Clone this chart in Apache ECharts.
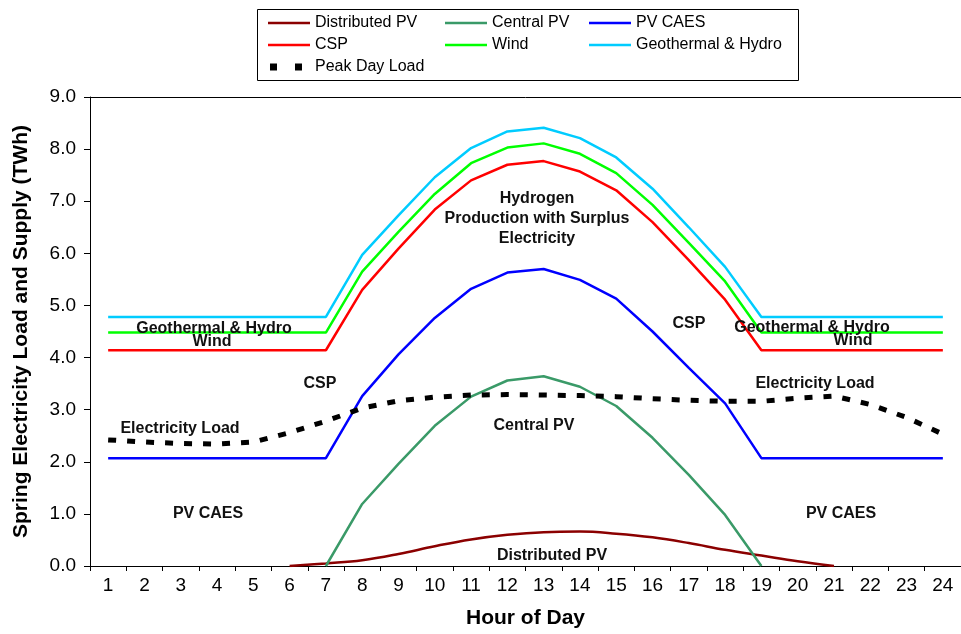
<!DOCTYPE html>
<html>
<head>
<meta charset="utf-8">
<script src="https://cdn.jsdelivr.net/npm/echarts@6/dist/echarts.min.js"></script>
<style>
html,body{margin:0;padding:0;background:#fff;}
#chart{width:961px;height:634px;}
</style>
</head>
<body>
<div id="chart"></div>
<script>
var hours = ['1','2','3','4','5','6','7','8','9','10','11','12','13','14','15','16','17','18','19','20','21','22','23','24'];
var yTicks = [0,1,2,3,4,5,6,7,8,9];

var distributedPV = [null,null,null,null,null,0,0.05,0.11,0.23,0.38,0.51,0.60,0.65,0.66,0.62,0.55,0.44,0.31,0.20,0.09,0,null,null,null];
var centralPV = [null,null,null,null,null,null,0,1.19,1.96,2.69,3.25,3.56,3.64,3.44,3.07,2.46,1.75,0.98,0,null,null,null,null,null];
var pvCAES = [2.07,2.07,2.07,2.07,2.07,2.07,2.07,3.26,4.06,4.76,5.32,5.63,5.70,5.49,5.13,4.50,3.80,3.12,2.07,2.07,2.07,2.07,2.07,2.07];
var csp = [4.14,4.14,4.14,4.14,4.14,4.14,4.14,5.30,6.09,6.84,7.40,7.70,7.77,7.57,7.21,6.60,5.87,5.11,4.14,4.14,4.14,4.14,4.14,4.14];
var wind = [4.48,4.48,4.48,4.48,4.48,4.48,4.48,5.65,6.41,7.14,7.73,8.03,8.11,7.91,7.54,6.93,6.20,5.46,4.48,4.48,4.48,4.48,4.48,4.48];
var geoHydro = [4.78,4.78,4.78,4.78,4.78,4.78,4.78,5.97,6.73,7.46,8.02,8.34,8.41,8.21,7.84,7.24,6.50,5.74,4.78,4.78,4.78,4.78,4.78,4.78];
var peakLoad = [2.42,2.38,2.35,2.34,2.38,2.56,2.78,3.03,3.17,3.24,3.28,3.29,3.28,3.27,3.25,3.21,3.18,3.16,3.16,3.22,3.26,3.10,2.85,2.53];

var FONT = 'Liberation Sans, Arial, Helvetica, sans-serif';
var LINE_ICON = 'path://M0,0h42v2.5h-42z';
var DASH_ICON = 'path://M0,3.5h0.01v0.01h-0.01z M2,0h7v7h-7z M27,0h7v7h-7z M42,3.5h0.01v0.01h-0.01z';

function lineSeries(name, data, color, extra) {
  var s = {
    name: name, type: 'line', data: data, symbol: 'none',
    lineStyle: {color: color, width: 2.5},
    itemStyle: {color: color},
    emphasis: {disabled: true},
    animation: false
  };
  if (extra) { for (var k in extra) s[k] = extra[k]; }
  return s;
}

var legendCommon = {
  orient: 'vertical', top: 15, padding: 0, itemWidth: 42, itemHeight: 16, itemGap: 6,
  textStyle: {fontFamily: FONT, fontSize: 16, color: '#000'},
  selectedMode: false
};
function li(name) { return {name: name, icon: name === 'Peak Day Load' ? DASH_ICON : LINE_ICON}; }

function ann(text, x, y) {
  return {type: 'text', z: 100, style: {text: text, x: x, y: y, align: 'center', verticalAlign: 'middle',
    font: 'bold 16px ' + FONT, fill: '#111', lineHeight: 20}};
}

var chart = echarts.init(document.getElementById('chart'));
chart.setOption({
  backgroundColor: '#fff',
  animation: false,
  grid: {left: 90, right: 0, top: 97, bottom: 65},
  legend: [
    Object.assign({left: 268, data: ['Distributed PV', 'CSP', 'Peak Day Load'].map(li)}, legendCommon),
    Object.assign({left: 445, data: ['Central PV', 'Wind'].map(li)}, legendCommon),
    Object.assign({left: 589, data: ['PV CAES', 'Geothermal & Hydro'].map(li)}, legendCommon)
  ],
  xAxis: [{
    type: 'category', data: hours, boundaryGap: true,
    name: 'Hour of Day', nameLocation: 'middle', nameGap: 42,
    nameTextStyle: {fontFamily: FONT, fontSize: 21, fontWeight: 'bold', color: '#000'},
    axisLine: {lineStyle: {color: '#000', width: 1}},
    axisTick: {show: true, length: 5, lineStyle: {color: '#000'}},
    axisLabel: {fontFamily: FONT, fontSize: 19, color: '#000', margin: 10},
    splitLine: {show: false}
  }, {
    type: 'category', data: hours, position: 'top',
    axisLine: {show: true, lineStyle: {color: '#000', width: 1}},
    axisTick: {show: false}, axisLabel: {show: false}, splitLine: {show: false}
  }],
  yAxis: {
    type: 'value', min: yTicks[0], max: yTicks[yTicks.length - 1], interval: 1,
    name: 'Spring Electricity Load and Supply (TWh)', nameLocation: 'middle', nameGap: 58,
    nameTextStyle: {fontFamily: FONT, fontSize: 21, fontWeight: 'bold', color: '#000'},
    axisLine: {show: true, lineStyle: {color: '#000', width: 1}},
    axisTick: {show: true, length: 6, lineStyle: {color: '#000'}},
    axisLabel: {fontFamily: FONT, fontSize: 19, color: '#000', margin: 14,
      formatter: function (v) { return v.toFixed(1); }},
    splitLine: {show: false}
  },
  graphic: [
    {type: 'rect', z: -1, shape: {x: 257.5, y: 9.5, width: 541, height: 71},
      style: {fill: 'none', stroke: '#000', lineWidth: 1}},
    ann('Hydrogen\nProduction with Surplus\nElectricity', 537, 219),
    ann('Geothermal & Hydro', 214, 329),
    ann('Wind', 212, 342),
    ann('Geothermal & Hydro', 812, 328),
    ann('Wind', 853, 341),
    ann('CSP', 320, 384),
    ann('CSP', 689, 324),
    ann('Electricity Load', 180, 429),
    ann('Electricity Load', 815, 384),
    ann('Central PV', 534, 426),
    ann('PV CAES', 208, 514),
    ann('PV CAES', 841, 514),
    ann('Distributed PV', 552, 556)
  ],
  series: [
    lineSeries('Distributed PV', distributedPV, '#8B0000', {smooth: 0.4}),
    lineSeries('Central PV', centralPV, '#3A9A68'),
    lineSeries('PV CAES', pvCAES, '#0000FF'),
    lineSeries('CSP', csp, '#FF0000'),
    lineSeries('Wind', wind, '#00FF00'),
    lineSeries('Geothermal & Hydro', geoHydro, '#00CCFF'),
    {
      name: 'Peak Day Load', type: 'line', data: peakLoad, symbol: 'none',
      lineStyle: {color: '#000', width: 5, type: [8, 11]},
      itemStyle: {color: '#000'}, emphasis: {disabled: true}, z: 3
    }
  ]
});
</script>
</body>
</html>
